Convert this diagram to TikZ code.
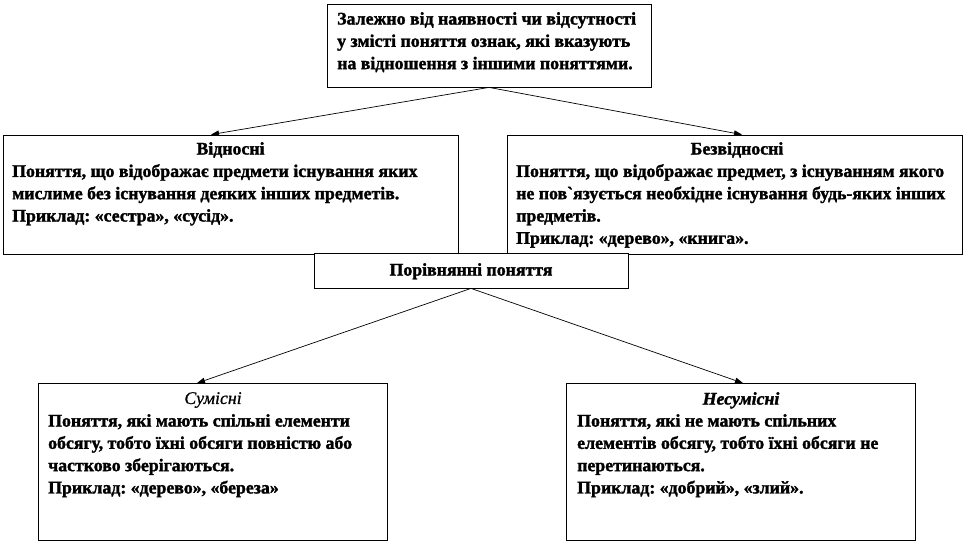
\documentclass[tikz,border=0pt]{standalone}
\usepackage{fontspec}
\setmainfont{Liberation Serif}[Ligatures=TeXOff, BoldFeatures={FakeBold=1.6}, BoldItalicFeatures={FakeBold=1.6}, ItalicFeatures={FakeBold=0.8}]
\usetikzlibrary{arrows.meta}
\newcommand\mysize{\fontsize{17.8}{22.3}\selectfont}
\tikzset{
  box/.style={draw, line width=0.8pt, fill=white, rectangle, inner sep=0pt},
  txt/.style={anchor=north west, align=left, inner sep=0pt, font=\bfseries\mysize},
  ttl/.style={txt, anchor=north},
  arr/.style={line width=0.7pt, -{Triangle[length=8pt,width=5.5pt]}},
}
\begin{document}
\frenchspacing
\begin{tikzpicture}[x=1pt,y=-1pt]
\useasboundingbox (0,0) rectangle (966,543);
% boxes
\node[box, minimum width=324pt, minimum height=83pt] (top) at (489,45.5) {};
\node[box, minimum width=455pt, minimum height=119pt] (vidn) at (230.5,194.5) {};
\node[box, minimum width=455pt, minimum height=119pt] (bezv) at (734.5,194.5) {};
\node[box, minimum width=314pt, minimum height=35pt] (porivn) at (471,270.5) {};
\node[box, minimum width=349pt, minimum height=157pt] (sum) at (212.5,462) {};
\node[box, minimum width=349pt, minimum height=157pt] (nesum) at (740.5,462) {};
% texts
\node[txt] (ttop) at (337,12) {Залежно від наявності чи відсутності\\у змісті поняття ознак, які вказують\\на відношення з іншими поняттями.};
\node[ttl] (hvidn) at (230.5,142) {Відносні};
\node[txt] (tvidn) at (12,164) {Поняття, що відображає предмети існування яких\\мислиме без існування деяких інших предметів.\\Приклад: «сестра», «сусід».};
\node[ttl] (hbezv) at (737,142) {Безвідносні};
\node[txt] (tbezv) at (516,164) {Поняття, що відображає предмет, з існуванням якого\\не пов`язується необхідне існування будь-яких інших\\предметів.\\Приклад: «дерево», «книга».};
\node[ttl] (hporivn) at (471,263) {Порівнянні поняття};
\node[ttl, font=\mdseries\itshape\mysize] (hsum) at (213,392) {Сумісні};
\node[txt] (tsum) at (48,414) {Поняття, які мають спільні елементи\\обсягу, тобто їхні обсяги повністю або\\частково зберігаються.\\Приклад: «дерево», «береза»};
\node[ttl, font=\bfseries\itshape\mysize] (hnesum) at (741,392) {Несумісні};
\node[txt] (tnesum) at (577,414) {Поняття, які не мають спільних\\елементів обсягу, тобто їхні обсяги не\\перетинаються.\\Приклад: «добрий», «злий».};
% connectors
\draw[arr] (top.south) -- ([xshift=-19.5pt]vidn.north);
\draw[arr] (top.south) -- ([xshift=7.5pt]bezv.north);
\draw[arr] (porivn.south) -- ([xshift=-15.5pt]sum.north);
\draw[arr] (porivn.south) -- ([xshift=2.5pt]nesum.north);
\end{tikzpicture}
\end{document}
